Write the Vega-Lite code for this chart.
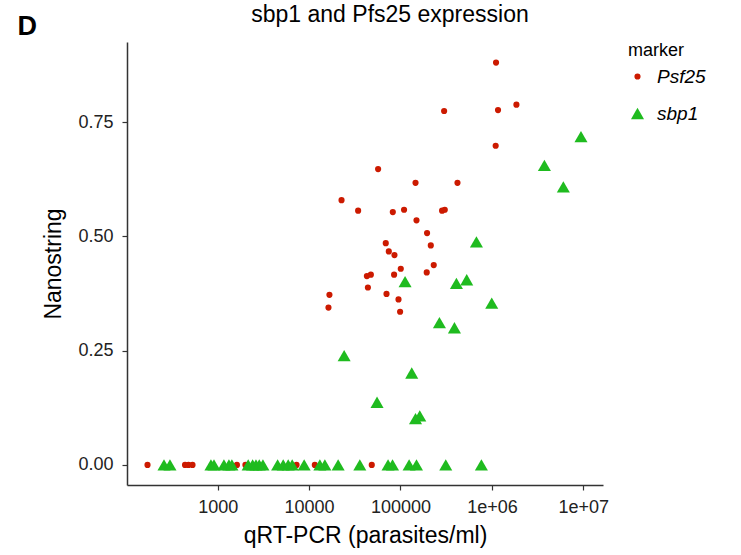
{
  "$schema": "https://vega.github.io/schema/vega-lite/v6.json",
  "width": 741,
  "height": 555,
  "autosize": {"type": "fit", "contains": "padding"},
  "padding": {"left": 17, "top": 4, "right": 35, "bottom": 8},
  "background": "white",
  "config": {
    "font": "Liberation Sans",
    "view": {"stroke": null},
    "axis": {"grid": false, "domainColor": "#333333", "domainWidth": 1.5, "tickColor": "#333333", "tickWidth": 1.2, "tickSize": 5, "labelColor": "#222222", "labelFontSize": 18, "titleFontSize": 23, "titleFontWeight": "normal", "titleColor": "#000000", "labelFont": "Liberation Sans", "titleFont": "Liberation Sans"}
  },
  "title": {"text": "sbp1 and Pfs25 expression", "fontSize": 23, "fontWeight": "normal", "font": "Liberation Sans", "anchor": "middle", "dx": 25, "offset": -15, "color": "#000000"},
  "data": {"values": [
    {"x": 171, "y": 0, "marker": "Psf25"},
    {"x": 440, "y": 0, "marker": "Psf25"},
    {"x": 480, "y": 0, "marker": "Psf25"},
    {"x": 531, "y": 0, "marker": "Psf25"},
    {"x": 1625, "y": 0, "marker": "Psf25"},
    {"x": 2014, "y": 0, "marker": "Psf25"},
    {"x": 7295, "y": 0, "marker": "Psf25"},
    {"x": 11560, "y": 0, "marker": "Psf25"},
    {"x": 48500, "y": 0, "marker": "Psf25"},
    {"x": 1109000, "y": 0.880, "marker": "Psf25"},
    {"x": 300000, "y": 0.774, "marker": "Psf25"},
    {"x": 1166000, "y": 0.776, "marker": "Psf25"},
    {"x": 1853000, "y": 0.788, "marker": "Psf25"},
    {"x": 1099000, "y": 0.698, "marker": "Psf25"},
    {"x": 56900, "y": 0.647, "marker": "Psf25"},
    {"x": 146000, "y": 0.617, "marker": "Psf25"},
    {"x": 420000, "y": 0.617, "marker": "Psf25"},
    {"x": 22650, "y": 0.579, "marker": "Psf25"},
    {"x": 34400, "y": 0.556, "marker": "Psf25"},
    {"x": 82400, "y": 0.553, "marker": "Psf25"},
    {"x": 109400, "y": 0.558, "marker": "Psf25"},
    {"x": 285000, "y": 0.556, "marker": "Psf25"},
    {"x": 305000, "y": 0.558, "marker": "Psf25"},
    {"x": 149600, "y": 0.535, "marker": "Psf25"},
    {"x": 195300, "y": 0.507, "marker": "Psf25"},
    {"x": 214500, "y": 0.480, "marker": "Psf25"},
    {"x": 69000, "y": 0.485, "marker": "Psf25"},
    {"x": 74500, "y": 0.467, "marker": "Psf25"},
    {"x": 85900, "y": 0.459, "marker": "Psf25"},
    {"x": 100700, "y": 0.429, "marker": "Psf25"},
    {"x": 231000, "y": 0.437, "marker": "Psf25"},
    {"x": 193600, "y": 0.421, "marker": "Psf25"},
    {"x": 42900, "y": 0.413, "marker": "Psf25"},
    {"x": 47400, "y": 0.416, "marker": "Psf25"},
    {"x": 85100, "y": 0.416, "marker": "Psf25"},
    {"x": 44000, "y": 0.388, "marker": "Psf25"},
    {"x": 70300, "y": 0.374, "marker": "Psf25"},
    {"x": 95100, "y": 0.362, "marker": "Psf25"},
    {"x": 16700, "y": 0.372, "marker": "Psf25"},
    {"x": 16300, "y": 0.344, "marker": "Psf25"},
    {"x": 99000, "y": 0.335, "marker": "Psf25"},
    {"x": 259, "y": 0, "marker": "sbp1"},
    {"x": 301, "y": 0, "marker": "sbp1"},
    {"x": 845, "y": 0, "marker": "sbp1"},
    {"x": 912, "y": 0, "marker": "sbp1"},
    {"x": 1172, "y": 0, "marker": "sbp1"},
    {"x": 1329, "y": 0, "marker": "sbp1"},
    {"x": 1432, "y": 0, "marker": "sbp1"},
    {"x": 2158, "y": 0, "marker": "sbp1"},
    {"x": 2413, "y": 0, "marker": "sbp1"},
    {"x": 2625, "y": 0, "marker": "sbp1"},
    {"x": 2852, "y": 0, "marker": "sbp1"},
    {"x": 3127, "y": 0, "marker": "sbp1"},
    {"x": 4529, "y": 0, "marker": "sbp1"},
    {"x": 5214, "y": 0, "marker": "sbp1"},
    {"x": 5912, "y": 0, "marker": "sbp1"},
    {"x": 6538, "y": 0, "marker": "sbp1"},
    {"x": 8836, "y": 0, "marker": "sbp1"},
    {"x": 13120, "y": 0, "marker": "sbp1"},
    {"x": 14880, "y": 0, "marker": "sbp1"},
    {"x": 20800, "y": 0, "marker": "sbp1"},
    {"x": 35900, "y": 0, "marker": "sbp1"},
    {"x": 73100, "y": 0, "marker": "sbp1"},
    {"x": 81800, "y": 0, "marker": "sbp1"},
    {"x": 124200, "y": 0, "marker": "sbp1"},
    {"x": 149600, "y": 0, "marker": "sbp1"},
    {"x": 312600, "y": 0, "marker": "sbp1"},
    {"x": 767000, "y": 0, "marker": "sbp1"},
    {"x": 9420000, "y": 0.718, "marker": "sbp1"},
    {"x": 3750000, "y": 0.655, "marker": "sbp1"},
    {"x": 6040000, "y": 0.608, "marker": "sbp1"},
    {"x": 677000, "y": 0.488, "marker": "sbp1"},
    {"x": 112200, "y": 0.401, "marker": "sbp1"},
    {"x": 409000, "y": 0.397, "marker": "sbp1"},
    {"x": 530000, "y": 0.405, "marker": "sbp1"},
    {"x": 995000, "y": 0.354, "marker": "sbp1"},
    {"x": 266600, "y": 0.311, "marker": "sbp1"},
    {"x": 389000, "y": 0.300, "marker": "sbp1"},
    {"x": 24200, "y": 0.239, "marker": "sbp1"},
    {"x": 132700, "y": 0.201, "marker": "sbp1"},
    {"x": 55400, "y": 0.137, "marker": "sbp1"},
    {"x": 162500, "y": 0.107, "marker": "sbp1"},
    {"x": 146000, "y": 0.101, "marker": "sbp1"}
  ]},
  "resolve": {"axis": {"x": "independent"}},
  "layer": [
    {
      "mark": {"type": "point", "filled": true, "opacity": 1, "strokeWidth": 0},
      "encoding": {
        "x": {"field": "x", "type": "quantitative", "scale": {"type": "log", "domain": [102, 16400000], "nice": false, "zero": false},
          "axis": {"orient": "bottom", "values": [1000, 10000, 100000, 1000000, 10000000], "labelExpr": "datum.value >= 1000000 ? '1e+0' + round(log(datum.value)/LN10) : format(datum.value, 'd')", "labelPadding": 8, "titlePadding": 8, "title": "qRT-PCR (parasites/ml)"}},
        "y": {"field": "y", "type": "quantitative", "scale": {"domain": [-0.044, 0.925], "nice": false, "zero": false},
          "axis": {"values": [0, 0.25, 0.5, 0.75], "format": ".2f", "labelPadding": 9, "titlePadding": 12, "title": "Nanostring"}},
        "color": {"field": "marker", "type": "nominal", "scale": {"domain": ["Psf25", "sbp1"], "range": ["#cc1a00", "#1fbb1f"]}, "title": "marker"},
        "shape": {"field": "marker", "type": "nominal", "scale": {"domain": ["Psf25", "sbp1"], "range": ["circle", "triangle-up"]}, "title": "marker"},
        "size": {"field": "marker", "type": "nominal", "scale": {"domain": ["Psf25", "sbp1"], "range": [38, 170]}, "title": "marker",
          "legend": {"offset": 25, "titleFontSize": 18, "titleFontWeight": "normal", "titleColor": "#000000", "labelFontSize": 19, "labelFontStyle": "italic", "labelColor": "#000000", "rowPadding": 17, "titlePadding": 7, "labelOffset": 10}}
      }
    },
    {
      "mark": {"type": "point", "opacity": 0},
      "encoding": {
        "x": {"field": "x", "type": "quantitative", "scale": {"type": "log", "domain": [102, 16400000], "nice": false, "zero": false},
          "axis": {"orient": "top", "domain": false, "ticks": false, "labels": false, "title": "D", "titleFontSize": 27, "titleFontWeight": "bold", "titleAnchor": "start", "titleAlign": "left", "titleX": -110, "titleY": -8, "titleBaseline": "alphabetic"}}
      }
    }
  ]
}
